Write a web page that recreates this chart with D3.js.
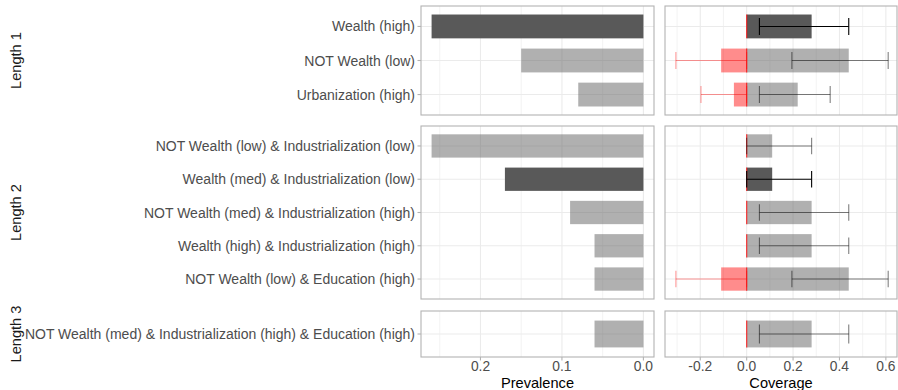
<!DOCTYPE html>
<html>
<head>
<meta charset="utf-8">
<script src="https://cdn.jsdelivr.net/npm/d3@7"></script>
<style>
  body { margin: 0; background: #fff; }
  svg { display: block; font-family: "Liberation Sans", Arial, sans-serif; }
</style>
</head>
<body>
<div id="chart"></div>
<script>
// chart data
const panels = ["Length 1", "Length 2", "Length 3"]
const groups = ["Length 1", "Length 1", "Length 1",
  "Length 2", "Length 2", "Length 2", "Length 2", "Length 2",
  "Length 3"]
const labels = [
  "Wealth (high)",
  "NOT Wealth (low)",
  "Urbanization (high)",
  "NOT Wealth (low) & Industrialization (low)",
  "Wealth (med) & Industrialization (low)",
  "NOT Wealth (med) & Industrialization (high)",
  "Wealth (high) & Industrialization (high)",
  "NOT Wealth (low) & Education (high)",
  "NOT Wealth (med) & Industrialization (high) & Education (high)"
]
const highlighted = [true, false, false, false, true, false, false, false, false]
const prevalence = [0.26, 0.15, 0.08, 0.26, 0.17, 0.09, 0.06, 0.06, 0.06]
const coverage = [0.28, 0.44, 0.22, 0.11, 0.11, 0.28, 0.28, 0.44, 0.28]
const coverageLow = [0.055, 0.195, 0.055, 0, 0, 0.055, 0.055, 0.195, 0.055]
const coverageHigh = [0.44, 0.61, 0.36, 0.28, 0.28, 0.44, 0.44, 0.61, 0.44]
const negCoverage = [0, -0.11, -0.055, 0, 0, 0, 0, -0.11, 0]
const negCoverageLow = [0, -0.305, -0.197, 0, 0, 0, 0, -0.305, 0]

const prevTicks = [0.2, 0.1, 0.0]
const prevMinor = [0.25, 0.15, 0.05]
const covTicks = [-0.2, 0.0, 0.2, 0.4, 0.6]
const covMinor = [-0.3, -0.1, 0.1, 0.3, 0.5]

// layout
const W = 898, H = 390
const leftX = [421, 654], rightX = [665, 897]
const panelY = [[6, 115], [126, 299], [311, 357]]
const gridCol = "#ebebeb", borderCol = "#b3b3b3"
const barDark = "#595959"

const rows = labels.map((l, i) => ({
  label: l, group: groups[i], hi: highlighted[i], prev: prevalence[i],
  cov: coverage[i], lo: coverageLow[i], hiCI: coverageHigh[i],
  neg: negCoverage[i], negLo: negCoverageLow[i]
}))

const svg = d3.select("#chart").append("svg")
  .attr("width", W).attr("height", H)

const xPrev = d3.scaleLinear().domain([0.273, -0.013]).range(leftX)
const xCov = d3.scaleLinear().domain([-0.352, 0.648]).range(rightX)

panels.forEach(function(p, pi) {
  const data = rows.filter(d => d.group === p)
  const [y0, y1] = panelY[pi]
  const y = d3.scalePoint()
    .domain(data.map(d => d.label))
    .range([y0, y1])
    .padding(0.6)
  const step = y.step()
  const bh = step * 0.7, cap = step * 0.5

  // ---- left panel: prevalence
  const gl = svg.append("g")
  gl.selectAll("line.minor").data(prevMinor).enter().append("line")
    .attr("x1", d => xPrev(d)).attr("x2", d => xPrev(d))
    .attr("y1", y0).attr("y2", y1)
    .attr("stroke", gridCol).attr("stroke-width", 0.6)
  gl.selectAll("line.major").data(prevTicks).enter().append("line")
    .attr("x1", d => xPrev(d)).attr("x2", d => xPrev(d))
    .attr("y1", y0).attr("y2", y1)
    .attr("stroke", gridCol).attr("stroke-width", 1.1)
  gl.selectAll("line.hgrid").data(data).enter().append("line")
    .attr("x1", leftX[0]).attr("x2", leftX[1])
    .attr("y1", d => y(d.label)).attr("y2", d => y(d.label))
    .attr("stroke", gridCol).attr("stroke-width", 1.1)
  gl.selectAll("rect.bar").data(data).enter().append("rect")
    .attr("x", d => xPrev(d.prev))
    .attr("width", d => xPrev(0) - xPrev(d.prev))
    .attr("y", d => y(d.label) - bh / 2)
    .attr("height", bh)
    .attr("fill", barDark)
    .attr("fill-opacity", d => d.hi ? 1 : 0.48)
  gl.append("rect")
    .attr("x", leftX[0]).attr("y", y0)
    .attr("width", leftX[1] - leftX[0]).attr("height", y1 - y0)
    .attr("fill", "none").attr("stroke", borderCol).attr("stroke-width", 1.1)

  // y axis ticks and labels
  gl.selectAll("line.ytick").data(data).enter().append("line")
    .attr("x1", leftX[0] - 3.5).attr("x2", leftX[0])
    .attr("y1", d => y(d.label)).attr("y2", d => y(d.label))
    .attr("stroke", borderCol).attr("stroke-width", 1.1)
  gl.selectAll("text.ylab").data(data).enter().append("text")
    .attr("x", leftX[0] - 6)
    .attr("y", d => y(d.label))
    .attr("dy", "0.36em")
    .attr("text-anchor", "end")
    .attr("font-size", "14px")
    .attr("fill", "#4d4d4d")
    .text(d => d.label)

  // strip label
  svg.append("text")
    .attr("transform", `translate(21,${(y0 + y1) / 2}) rotate(-90)`)
    .attr("text-anchor", "middle")
    .attr("font-size", "14.6px")
    .attr("fill", "#1a1a1a")
    .text(p)

  // ---- right panel: coverage
  const gr = svg.append("g")
  gr.selectAll("line.minor").data(covMinor).enter().append("line")
    .attr("x1", d => xCov(d)).attr("x2", d => xCov(d))
    .attr("y1", y0).attr("y2", y1)
    .attr("stroke", gridCol).attr("stroke-width", 0.6)
  gr.selectAll("line.major").data(covTicks).enter().append("line")
    .attr("x1", d => xCov(d)).attr("x2", d => xCov(d))
    .attr("y1", y0).attr("y2", y1)
    .attr("stroke", gridCol).attr("stroke-width", 1.1)
  gr.selectAll("line.hgrid").data(data).enter().append("line")
    .attr("x1", rightX[0]).attr("x2", rightX[1])
    .attr("y1", d => y(d.label)).attr("y2", d => y(d.label))
    .attr("stroke", gridCol).attr("stroke-width", 1.1)

  gr.selectAll("rect.pos").data(data).enter().append("rect")
    .attr("x", xCov(0))
    .attr("width", d => xCov(d.cov) - xCov(0))
    .attr("y", d => y(d.label) - bh / 2)
    .attr("height", bh)
    .attr("fill", barDark)
    .attr("fill-opacity", d => d.hi ? 1 : 0.48)
  gr.selectAll("rect.neg").data(data).enter().append("rect")
    .attr("x", d => xCov(d.neg))
    .attr("width", d => xCov(0) - xCov(d.neg))
    .attr("y", d => y(d.label) - bh / 2)
    .attr("height", bh)
    .attr("fill", "red")
    .attr("fill-opacity", 0.45)
  gr.selectAll("line.zero").data(data).enter().append("line")
    .attr("x1", xCov(0)).attr("x2", xCov(0))
    .attr("y1", d => y(d.label) - bh / 2)
    .attr("y2", d => y(d.label) + bh / 2)
    .attr("stroke", "red").attr("stroke-opacity", 0.75)
    .attr("stroke-width", 1.2)

  // error bars
  function errorbar(sel, lo, hi, color, op) {
    const e = sel.enter().append("g")
      .attr("stroke", color)
      .attr("stroke-opacity", op)
      .attr("stroke-width", 1.1)
    e.append("line")
      .attr("x1", d => xCov(lo(d))).attr("x2", d => xCov(hi(d)))
      .attr("y1", d => y(d.label)).attr("y2", d => y(d.label))
    e.append("line")
      .attr("x1", d => xCov(lo(d))).attr("x2", d => xCov(lo(d)))
      .attr("y1", d => y(d.label) - cap / 2).attr("y2", d => y(d.label) + cap / 2)
    e.append("line")
      .attr("x1", d => xCov(hi(d))).attr("x2", d => xCov(hi(d)))
      .attr("y1", d => y(d.label) - cap / 2).attr("y2", d => y(d.label) + cap / 2)
  }
  errorbar(gr.selectAll("g.err").data(data), d => d.lo, d => d.hiCI,
    "#000", d => d.hi ? 1 : 0.5)
  errorbar(gr.selectAll("g.nerr").data(data.filter(d => d.negLo < 0)),
    d => d.negLo, d => 0, "red", 0.4)

  gr.append("rect")
    .attr("x", rightX[0]).attr("y", y0)
    .attr("width", rightX[1] - rightX[0]).attr("height", y1 - y0)
    .attr("fill", "none").attr("stroke", borderCol).attr("stroke-width", 1.1)
})

// x axes at the bottom
const yb = panelY[2][1]
function xAxis(scale, ticks, fmt) {
  const g = svg.append("g")
  g.selectAll("line").data(ticks).enter().append("line")
    .attr("x1", d => scale(d)).attr("x2", d => scale(d))
    .attr("y1", yb).attr("y2", yb + 3.5)
    .attr("stroke", borderCol).attr("stroke-width", 1.1)
  g.selectAll("text").data(ticks).enter().append("text")
    .attr("x", d => scale(d))
    .attr("y", yb + 13.5)
    .attr("text-anchor", "middle")
    .attr("font-size", "13.8px")
    .attr("fill", "#4d4d4d")
    .text(fmt)
}
xAxis(xPrev, prevTicks, d3.format(".1f"))
xAxis(xCov, covTicks, d => d3.format(".1f")(d).replace("−", "-"))

svg.append("text")
  .attr("x", (leftX[0] + leftX[1]) / 2).attr("y", 387.5)
  .attr("text-anchor", "middle").attr("font-size", "14.6px").attr("fill", "#000")
  .text("Prevalence")
svg.append("text")
  .attr("x", (rightX[0] + rightX[1]) / 2).attr("y", 387.5)
  .attr("text-anchor", "middle").attr("font-size", "14.6px").attr("fill", "#000")
  .text("Coverage")
</script>
</body>
</html>
